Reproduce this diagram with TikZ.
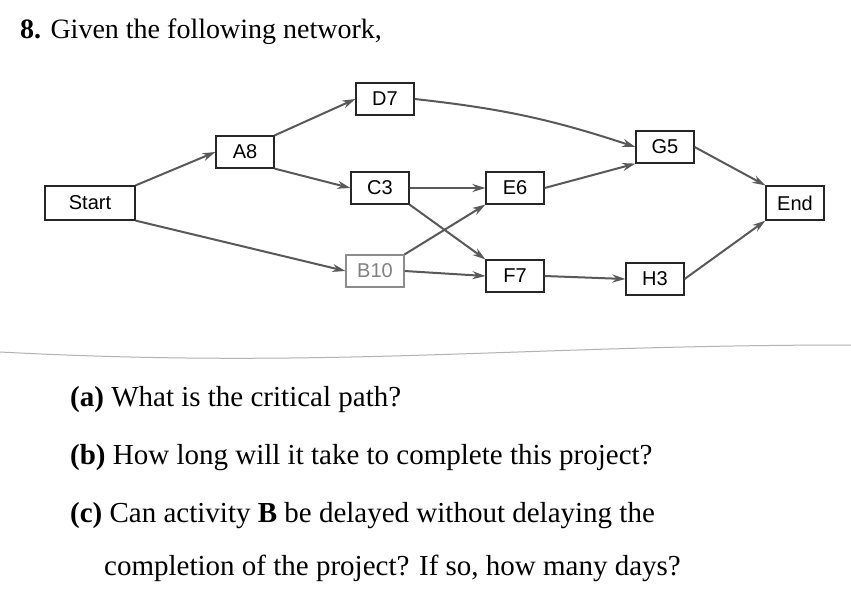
\documentclass[tikz,border=0pt]{standalone}
\usepackage{fontspec}
\setmainfont{Liberation Serif}
\newfontfamily\boxfont{Liberation Sans}
\usetikzlibrary{arrows.meta}
\tikzset{
  act/.style={draw=black!85, line width=1.2pt, fill=white, minimum width=58pt, minimum height=32pt, inner sep=0pt, font=\boxfont\fontsize{20}{20}\selectfont},
  link/.style={draw=black!65, line width=2pt, -{Stealth[length=13pt,width=8pt]}},
  qtext/.style={anchor=west, inner sep=0pt, font=\fontsize{29}{32}\selectfont}
}
\begin{document}
\begin{tikzpicture}[x=1pt,y=-1pt]
\useasboundingbox (0,0) rectangle (851,611);
\fill[white] (0,0) rectangle (851,611);
\node[qtext, font=\fontsize{28}{30}\selectfont] (title) at (20,32) {\textbf{8.} Given the following network,};
\node[act, minimum width=90pt, minimum height=34pt] (start) at (90,203) {Start};
\node[act] (a8) at (245,152) {A8};
\node[act] (d7) at (385,99) {D7};
\node[act] (c3) at (380,188) {C3};
\node[act, draw=black!45, text=black!50] (b10) at (375,271) {B10};
\node[act] (e6) at (515,188) {E6};
\node[act] (f7) at (515,276) {F7};
\node[act] (g5) at (665,147) {G5};
\node[act] (h3) at (655,279) {H3};
\node[act, minimum height=34pt] (end) at (795,203) {End};
\draw[link] (start.north east) -- (a8.west);
\draw[link] (start.south east) -- (b10.west);
\draw[link] (a8.north east) -- (d7.west);
\draw[link] (a8.south east) -- (c3.west);
\draw[link] (d7.east) to[bend left=6] (g5.west);
\draw[link] (c3.east) -- (e6.west);
\draw[link] (c3.south east) -- (f7.north west);
\draw[link] (b10.north east) -- (e6.south west);
\draw[link] (b10.east) -- (f7.west);
\draw[link] (e6.east) -- (g5.south west);
\draw[link] (f7.east) -- (h3.west);
\draw[link] (g5.east) -- (end.north west);
\draw[link] (h3.east) -- (end.south west);
\draw[black!30, line width=1pt] (0,352) to[out=-3,in=180] (851,345);
\node[qtext] (qa) at (70,400) {\textbf{(a)}\ What is the critical path?};
\node[qtext] (qb) at (70,458) {\textbf{(b)}\ How long will it take to complete this project?};
\node[qtext] (qc) at (70,516) {\textbf{(c)}\ Can activity \textbf{B} be delayed without delaying the};
\node[qtext] (qd) at (104,568) {completion of the project? If so, how many days?};
\end{tikzpicture}
\end{document}
